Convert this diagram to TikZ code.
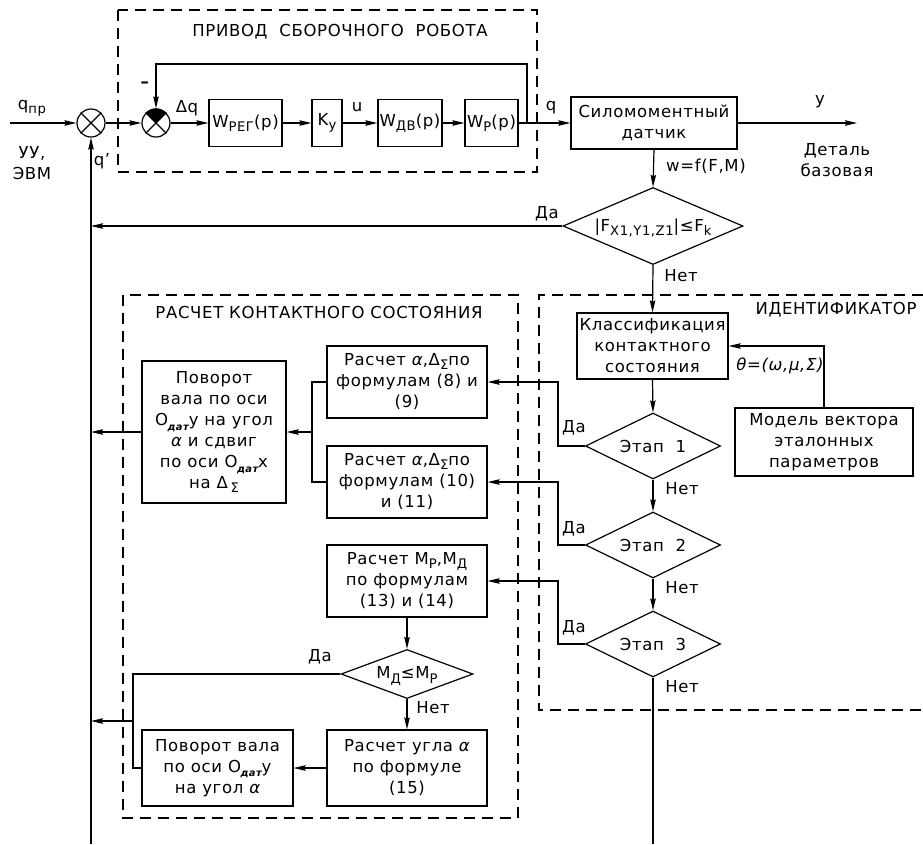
\documentclass[tikz,border=0pt]{standalone}
\usepackage{fontspec}
\setmainfont[LetterSpace=4]{DejaVu Sans}
\usetikzlibrary{arrows.meta,shapes.geometric}
\newcommand\sbs[1]{\raisebox{-0.45ex}{\scalebox{0.8}{#1}}}
\newcommand\al{{\itshape α}}
\newcommand\Odat{O\kern-0.5pt\raisebox{-0.5ex}{\scalebox{0.6}{\bfseries\itshape дат}}}
\begin{document}
\begin{tikzpicture}[x=1pt,y=-1pt,line width=1.2pt,
  every node/.style={font=\fontsize{16.5}{21}\selectfont},
  box/.style={draw,rectangle,inner sep=0,align=center},
  dia/.style={draw,diamond,inner sep=0},
  sum/.style={draw,circle,minimum size=28pt,inner sep=0},
  arr/.style={-{Stealth[length=12pt,width=5.5pt,inset=1.5pt]}},
  grp/.style={dash pattern=on 11pt off 7pt},
  lbl/.style={inner sep=0}]
\useasboundingbox (0,0) rectangle (923,844);

% group frames
\draw[grp] (118,10) rectangle (537,172);
\node[lbl] (tprivod) at (340,32) {ПРИВОД\ \ СБОРОЧНОГО\ \ РОБОТА};
\draw[grp] (123,295) rectangle (518,818);
\node[lbl] (traschet) at (319,312) {РАСЧЕТ\ КОНТАКТНОГО\ СОСТОЯНИЯ};
\draw[grp] (923,295) -- (539,295) -- (539,710) -- (923,710);
\node[lbl] (tident) at (836,310) {ИДЕНТИФИКАТОР};

% summing junctions
\node[sum] (s1) at (91,123) {};
\draw (s1.north west) -- (s1.south east) (s1.north east) -- (s1.south west);
\node[sum] (s2) at (156,123) {};
\fill (s2.center) -- (s2.135) -- (s2.125) -- (s2.115) -- (s2.105) -- (s2.95) -- (s2.85) -- (s2.75) -- (s2.65) -- (s2.55) -- (s2.45) -- cycle;
\draw (s2.north west) -- (s2.south east) (s2.north east) -- (s2.south west);

% drive blocks
\node[box,minimum width=73pt,minimum height=47pt] (wreg) at (245.5,123) {W\sbs{РЕГ}(p)};
\node[box,minimum width=30pt,minimum height=47pt] (ky) at (327,123) {K\sbs{y}};
\node[box,minimum width=64pt,minimum height=47pt] (wdv) at (410,123) {W\sbs{ДВ}(p)};
\node[box,minimum width=53pt,minimum height=47pt] (wp) at (491.5,123) {W\sbs{P}(p)};
\node[box,minimum width=166pt,minimum height=52pt] (sensor) at (654,123) {Силомоментный\\датчик};

% identifier
\node[dia,minimum width=180pt,minimum height=77pt] (d1) at (653,226) {};
\node[lbl] (d1t) at (653,228) {|F\sbs{X1,Y1,Z1}|≤F\sbs{k}};
\node[box,minimum width=151pt,minimum height=66pt] (klass) at (652.5,346) {Классификация\\контактного\\состояния};
\node[box,minimum width=178pt,minimum height=68pt] (model) at (824,442) {Модель\ вектора\\эталонных\\параметров};
\node[dia,minimum width=135pt,minimum height=66pt] (et1) at (653,446) {};
\node[lbl] (et1t) at (653,446) {Этап\ \ 1};
\node[dia,minimum width=135pt,minimum height=66pt] (et2) at (653,545) {};
\node[lbl] (et2t) at (653,545) {Этап\ \ 2};
\node[dia,minimum width=135pt,minimum height=66pt] (et3) at (653,644) {};
\node[lbl] (et3t) at (653,644) {Этап\ \ 3};

% contact state computation
\node[box,minimum width=160pt,minimum height=72pt] (b1) at (407,382) {Расчет\ \al,Δ\sbs{Σ}по\\формулам (8) и\\(9)};
\node[box,minimum width=160pt,minimum height=72pt] (b2) at (407,482) {Расчет\ \al,Δ\sbs{Σ}по\\формулам (10)\\и (11)};
\node[box,minimum width=160pt,minimum height=72pt] (b3) at (407,581) {Расчет\ M\sbs{P},M\sbs{Д}\\по формулам\\(13) и (14)};
\node[box,minimum width=144pt,minimum height=142pt] (pov1) at (214,432) {Поворот\\вала по оси\\\Odat y на угол\\\al\ и сдвиг\\по оси \Odat x\\на\ Δ\,\sbs{Σ}};
\node[dia,minimum width=132pt,minimum height=49pt] (d4) at (407,674) {};
\node[lbl] (d4t) at (407,676) {M\sbs{Д}≤M\sbs{P}};
\node[box,minimum width=160pt,minimum height=76pt] (b4) at (407,768) {Расчет угла \al\\по формуле\\(15)};
\node[box,minimum width=151pt,minimum height=76pt] (pov2) at (217.5,768) {Поворот вала\\по оси \Odat y\\на угол \al};

% labels
\node[lbl] (lqpr) at (32,108) {q\sbs{пр}};
\node[lbl,align=center] (luu) at (32,163) {УУ,\\ЭВМ};
\node[lbl] (lq1) at (102,161) {q'};
\node[lbl] (lminus) at (145,85) {\textbf{–}};
\node[lbl] (ldq) at (187,108) {Δq};
\node[lbl] (lu) at (357,107) {u};
\node[lbl] (lq) at (551,108) {q};
\node[lbl] (ly) at (820,102) {y};
\node[lbl,align=center] (ldet) at (837,160) {Деталь\\базовая};
\node[lbl] (lw) at (706,166) {w=f(F,M)};
\node[lbl] (lda0) at (547,214) {Да};
\node[lbl] (lnet0) at (681,276) {Нет};
\node[lbl] (ltheta) at (780,366) {\itshape θ=(ω,μ,Σ)};
\node[lbl] (lda1) at (574,428) {Да};
\node[lbl] (lnet1) at (682,489) {Нет};
\node[lbl] (lda2) at (574,529) {Да};
\node[lbl] (lnet2) at (682,588) {Нет};
\node[lbl] (lda3) at (574,628) {Да};
\node[lbl] (lnet3) at (682,687) {Нет};
\node[lbl] (lda4) at (320,657) {Да};
\node[lbl] (lnet4) at (433,708) {Нет};

% coordinates
\coordinate (in) at (10,123);
\coordinate (fb) at (527,123);
\coordinate (fbt) at (527,64);
\coordinate (yout) at (857,123);
\coordinate (bot) at (91,844);
\coordinate (m0) at (91,226);
\coordinate (m1) at (91,432);
\coordinate (m2) at (91,721);
\coordinate (j) at (312,432);
\coordinate (c1) at (133,768);
\coordinate (c2) at (133,721);
\coordinate (e3) at (653,844);

% connectors
\draw[arr] (in) -- (s1.west);
\draw[arr] (s1.east) -- (s2.west);
\draw[arr] (s2.east) -- (wreg.west);
\draw[arr] (wreg.east) -- (ky.west);
\draw[arr] (ky.east) -- (wdv.west);
\draw[arr] (wdv.east) -- (wp.west);
\draw[arr] (wp.east) -- (sensor.west);
\draw[arr] (fb) -- (fbt) -| (s2.north);
\draw[arr] (sensor.east) -- (yout);
\draw[arr] (sensor.south) -- (d1.north);
\draw[arr] (d1.west) -- (m0);
\draw[arr] (bot) -- (s1.south);
\draw[arr] (d1.south) -- (klass.north);
\draw[arr] (model.north) |- (klass.east);
\draw[arr] (klass.south) -- (et1.north);
\draw[arr] (et1.south) -- (et2.north);
\draw[arr] (et2.south) -- (et3.north);
\draw (et3.south) -- (e3);
\draw[arr] (et1.west) -- ++(-27,0) |- (b1.east);
\draw[arr] (et2.west) -- ++(-27,0) |- (b2.east);
\draw[arr] (et3.west) -- ++(-27,0) |- (b3.east);
\draw (b1.west) -| (j);
\draw (b2.west) -| (j);
\draw[arr] (j) -- (pov1.east);
\draw[arr] (pov1.west) -- (m1);
\draw[arr] (b3.south) -- (d4.north);
\draw (d4.west) -| (c1) -- (pov2.west);
\draw[arr] (c2) -- (m2);
\draw[arr] (d4.south) -- (b4.north);
\draw[arr] (b4.west) -- (pov2.east);
\end{tikzpicture}
\end{document}
